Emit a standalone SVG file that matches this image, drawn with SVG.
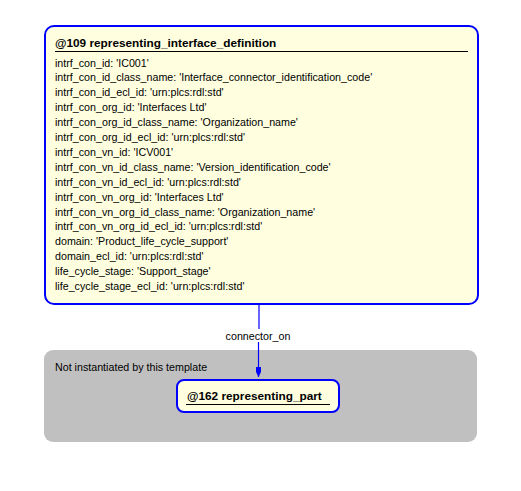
<svg xmlns="http://www.w3.org/2000/svg" width="521" height="491" viewBox="0 0 521 491">
<style>
.node{fill:#ffffe0;stroke:#0000ff;stroke-width:2}
.hdr{font-family:"Liberation Sans",Arial,sans-serif;font-size:11.8px;font-weight:bold;fill:#000}
.att{font-family:"Liberation Sans",Arial,sans-serif;font-size:10.7px;fill:#000}
.conn{stroke:#0000ff;stroke-width:1.2;fill:none}
</style>
<defs>
<marker id="arr" markerWidth="10" markerHeight="5" refX="10" refY="2.5" orient="auto" markerUnits="userSpaceOnUse" viewBox="0 0 10 5">
<path d="M0,0 L5,0 L10,2.5 L5,5 L0,5 Z" fill="#0000ff"/>
</marker>
</defs>
<rect width="521" height="491" fill="#ffffff"/>
<g id="group_not_instantiated">
<rect x="44" y="350" width="433" height="92" rx="9" fill="#c0c0c0"/>
<text class="att" x="55" y="371">Not instantiated by this template</text>
</g>
<g id="node109">
<rect class="node" x="45" y="26" width="433" height="278" rx="9"/>
<text class="hdr" x="55" y="47">@109 representing_interface_definition</text>
<line x1="55" y1="51.5" x2="468" y2="51.5" stroke="#000" stroke-width="1"/>
<text class="att" x="55" y="66.5">intrf_con_id: 'IC001'</text>
<text class="att" x="55" y="81.4">intrf_con_id_class_name: 'Interface_connector_identification_code'</text>
<text class="att" x="55" y="96.3">intrf_con_id_ecl_id: 'urn:plcs:rdl:std'</text>
<text class="att" x="55" y="111.2">intrf_con_org_id: 'Interfaces Ltd'</text>
<text class="att" x="55" y="126.1">intrf_con_org_id_class_name: 'Organization_name'</text>
<text class="att" x="55" y="141">intrf_con_org_id_ecl_id: 'urn:plcs:rdl:std'</text>
<text class="att" x="55" y="155.9">intrf_con_vn_id: 'ICV001'</text>
<text class="att" x="55" y="170.8">intrf_con_vn_id_class_name: 'Version_identification_code'</text>
<text class="att" x="55" y="185.7">intrf_con_vn_id_ecl_id: 'urn:plcs:rdl:std'</text>
<text class="att" x="55" y="200.6">intrf_con_vn_org_id: 'Interfaces Ltd'</text>
<text class="att" x="55" y="215.5">intrf_con_vn_org_id_class_name: 'Organization_name'</text>
<text class="att" x="55" y="230.4">intrf_con_vn_org_id_ecl_id: 'urn:plcs:rdl:std'</text>
<text class="att" x="55" y="245.3">domain: 'Product_life_cycle_support'</text>
<text class="att" x="55" y="260.2">domain_ecl_id: 'urn:plcs:rdl:std'</text>
<text class="att" x="55" y="275.1">life_cycle_stage: 'Support_stage'</text>
<text class="att" x="55" y="290">life_cycle_stage_ecl_id: 'urn:plcs:rdl:std'</text>
</g>
<g id="node162">
<rect class="node" x="177" y="380" width="162" height="32" rx="7"/>
<text class="hdr" x="187" y="400">@162 representing_part</text>
<line x1="186" y1="404.5" x2="330" y2="404.5" stroke="#000" stroke-width="1"/>
</g>
<g id="connectors">
<line class="conn" x1="259" y1="305" x2="259" y2="329"/>
<line class="conn" x1="258.5" y1="342" x2="258.5" y2="377" marker-end="url(#arr)"/>
<text class="att" x="258" y="340" text-anchor="middle">connector_on</text>
</g>
</svg>
